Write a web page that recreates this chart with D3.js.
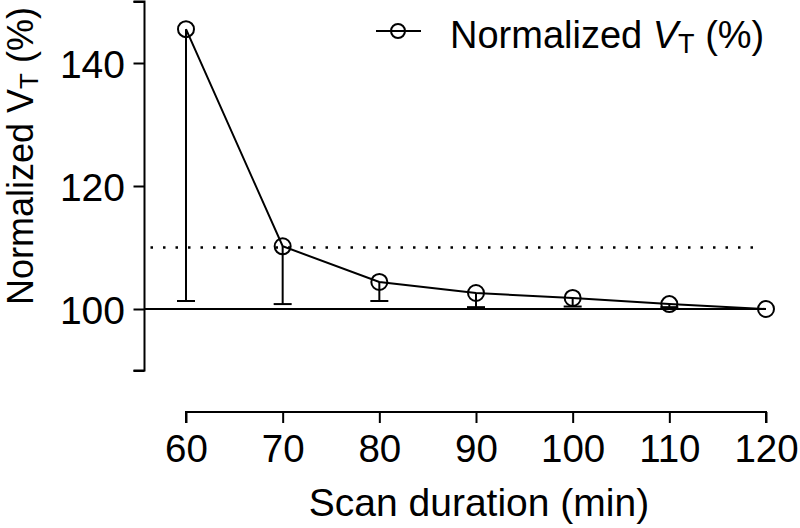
<!DOCTYPE html>
<html>
<head>
<meta charset="utf-8">
<script src="https://cdn.jsdelivr.net/npm/d3@7/dist/d3.min.js"></script>
<style>
  body { margin: 0; background: #fff; }
  svg { display: block; }
  text { font-family: "Liberation Sans", Arial, sans-serif; fill: #000; }
</style>
</head>
<body>
<svg id="chart" width="800" height="528"></svg>
<script>
// ---- data ----
const durations = [60, 70, 80, 90, 100, 110, 120];
const normalizedVT = [145.5, 110.2, 104.4, 102.6, 101.8, 100.8, 100];
const errorDown = [44.2, 9.4, 3.1, 2.3, 1.4, 0.5, 0];
const xTicks = [60, 70, 80, 90, 100, 110, 120];
const yTicks = [100, 120, 140];
const yEnds = [90, 150];
const baselineValue = 100;
const thresholdValue = 110;

const svg = d3.select("#chart");
const x = d3.scaleLinear().domain([60, 120]).range([186, 766]);
const y = d3.scaleLinear().domain([90, 150]).range([370.5, 1.5]);
const axisX = 144.5, axisY = 412;

// Y axis
const yAxis = d3.axisLeft(y).tickValues(yTicks.concat(yEnds)).tickSize(11).tickPadding(8.5)
  .tickFormat(d => yTicks.includes(d) ? d : "");
const gy = svg.append("g").attr("transform", `translate(${axisX},0)`).call(yAxis);
gy.select(".domain").attr("d", `M-11,${y(150)}H0V${y(90)}H-11`).attr("stroke-width", 2).attr("fill", "none");
gy.selectAll(".tick line").attr("stroke-width", 2);
gy.selectAll(".tick text").attr("font-size", 39).attr("font-family", "Liberation Sans, Arial, sans-serif").attr("dy", "0.36em");

// X axis
const xAxis = d3.axisBottom(x).tickValues(xTicks).tickSize(11).tickPadding(12).tickFormat(d => d);
const gx = svg.append("g").attr("transform", `translate(0,${axisY})`).call(xAxis);
gx.select(".domain").attr("d", `M${x(60)},11V0H${x(120)}V11`).attr("stroke-width", 2).attr("fill", "none");
gx.selectAll(".tick line").attr("stroke-width", 2);
gx.selectAll(".tick text").attr("font-size", 38.5).attr("font-family", "Liberation Sans, Arial, sans-serif");

// baseline at 100
svg.append("line").attr("x1", axisX).attr("x2", x(120)).attr("y1", y(baselineValue)).attr("y2", y(baselineValue))
  .attr("stroke", "#000").attr("stroke-width", 2);
// dotted threshold at 110
svg.append("line").attr("x1", axisX + 6).attr("x2", 762).attr("y1", y(thresholdValue)).attr("y2", y(thresholdValue))
  .attr("stroke", "#000").attr("stroke-width", 2.5).attr("stroke-dasharray", "2.5,10");

// error bars (downward only)
const cap = 9;
const eb = svg.append("g").attr("stroke", "#000").attr("stroke-width", 2);
durations.forEach((d, i) => {
  if (errorDown[i] <= 0) return;
  const lo = normalizedVT[i] - errorDown[i];
  eb.append("line").attr("x1", x(d)).attr("x2", x(d)).attr("y1", y(normalizedVT[i])).attr("y2", y(lo));
  eb.append("line").attr("x1", x(d) - cap).attr("x2", x(d) + cap).attr("y1", y(lo)).attr("y2", y(lo));
});

// line
svg.append("path").datum(durations.map((d, i) => [d, normalizedVT[i]]))
  .attr("d", d3.line().x(p => x(p[0])).y(p => y(p[1])))
  .attr("fill", "none").attr("stroke", "#000").attr("stroke-width", 2);

// markers
svg.append("g").selectAll("circle").data(durations).join("circle")
  .attr("cx", d => x(d)).attr("cy", (d, i) => y(normalizedVT[i])).attr("r", 8)
  .attr("fill", "none").attr("stroke", "#000").attr("stroke-width", 2);

// axis titles
svg.append("text").attr("x", 479).attr("y", 516).attr("text-anchor", "middle").attr("font-size", 39)
  .text("Scan duration (min)");

const yt = svg.append("text").attr("transform", "translate(33,156) rotate(-90)").attr("text-anchor", "middle").attr("font-size", 36);
yt.append("tspan").text("Normalized ");
yt.append("tspan").text("V");
yt.append("tspan").attr("font-size", 26).attr("dy", 5).text("T");
yt.append("tspan").attr("dy", -5).text(" (%)");

// legend
svg.append("line").attr("x1", 376).attr("x2", 421).attr("y1", 31).attr("y2", 31).attr("stroke", "#000").attr("stroke-width", 2);
svg.append("circle").attr("cx", 398).attr("cy", 31).attr("r", 7).attr("fill", "none").attr("stroke", "#000").attr("stroke-width", 2);
const lt = svg.append("text").attr("x", 450).attr("y", 48).attr("font-size", 38);
lt.append("tspan").text("Normalized ");
lt.append("tspan").attr("font-style", "italic").text("V");
lt.append("tspan").attr("font-size", 27).attr("dy", 5).text("T");
lt.append("tspan").attr("dy", -5).text(" (%)");
</script>
</body>
</html>
